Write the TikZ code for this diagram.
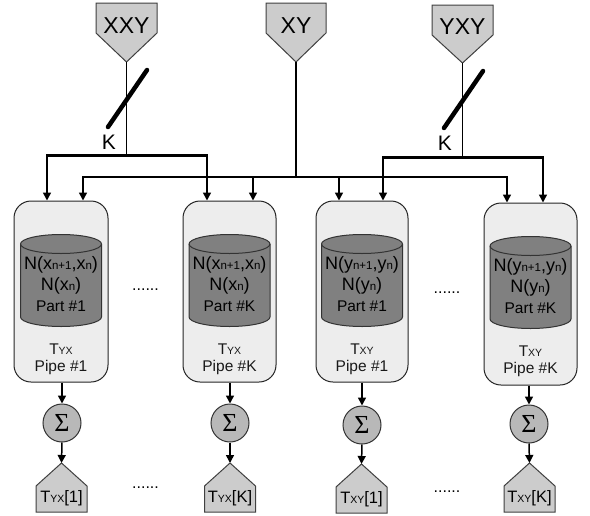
\documentclass[tikz,border=0pt]{standalone}
\usepackage{fontspec}
\setmainfont{Liberation Sans}
\newfontfamily\sigfont{Liberation Serif}
\usetikzlibrary{arrows.meta}
\newcommand{\fsz}[1]{\fontsize{#1}{#1}\selectfont}
\newcommand{\smsub}[1]{{\fsz{10.5}#1}}
\newcommand{\cylsub}[1]{{\fsz{11.5}#1}}
\newcommand{\drawcyl}[2]{% center x, vertical offset
  \draw[cylbody] ({#1-40.5},{244+#2}) -- ({#1-40.5},{317+#2})
     arc[start angle=180,end angle=360,x radius=40.5pt,y radius=9.5pt]
     -- ({#1+40.5},{244+#2})
     arc[start angle=0,end angle=180,x radius=40.5pt,y radius=9.5pt] -- cycle;
  \draw[cylline] ({#1-40.5},{244+#2}) arc[start angle=180,end angle=360,x radius=40.5pt,y radius=9.5pt];
}
\begin{document}
\begin{tikzpicture}[x=1pt,y=-1pt,
  wire/.style={line width=1.6pt,draw=black},
  bus/.style={line width=3pt,draw=black},
  drop/.style={line width=1.6pt,draw=black,-{Triangle[width=8pt,length=8pt]}},
  arr/.style={line width=1.5pt,draw=black,-{Triangle[width=8pt,length=8pt]}},
  src/.style={draw=black!75,fill=black!20,line width=1pt,line join=miter},
  srctext/.style={font=\fsz{23},inner sep=0pt,anchor=base},
  pipebox/.style={draw=black!85,fill=black!7,line width=1pt,rounded corners=17pt,inner sep=0pt},
  cylbody/.style={draw=black!80,fill=black!50,line width=1pt},
  cylline/.style={draw=black!80,line width=1pt},
  cyltext/.style={font=\fsz{18},inner sep=0pt,anchor=base},
  parttext/.style={font=\fsz{15.5},inner sep=0pt,anchor=base},
  pipetext/.style={font=\fsz{15.5},inner sep=0pt,anchor=base,text=black!90},
  sigma/.style={circle,draw=black!80,fill=black!28,line width=1pt,minimum size=38pt,inner sep=0pt,font=\sigfont\fsz{26}},
  outtext/.style={font=\fsz{16.5},inner sep=0pt,anchor=base},
  dots/.style={font=\fsz{16},inner sep=0pt,anchor=base},
  slash/.style={line width=4.5pt,line cap=round,draw=black},
  ktext/.style={font=\fsz{21},inner sep=0pt}
]
\fill[white] (0,0) rectangle (590,515);
\useasboundingbox (0,0) rectangle (590,515);

% ---------- pipe boxes ----------
\node[pipebox,minimum width=94pt,minimum height=181pt] (p1) at (61,291.5) {};
\node[pipebox,minimum width=93pt,minimum height=181pt] (p2) at (229.5,291.5) {};
\node[pipebox,minimum width=92pt,minimum height=181pt] (p3) at (362,291.5) {};
\node[pipebox,minimum width=93pt,minimum height=182pt] (p4) at (530.5,294) {};

% ---------- cylinders ----------
\drawcyl{61}{0}
\drawcyl{229.5}{0}
\drawcyl{362}{0}
\drawcyl{530.5}{2}

\node[cyltext] (c1a) at (61,269) {N(x\cylsub{n+1},x\cylsub{n})};
\node[cyltext] (c1b) at (61,290) {N(x\cylsub{n})};
\node[parttext] (c1c) at (61,311) {Part \#1};
\node[cyltext] (c2a) at (229.5,269) {N(x\cylsub{n+1},x\cylsub{n})};
\node[cyltext] (c2b) at (229.5,290) {N(x\cylsub{n})};
\node[parttext] (c2c) at (229.5,311) {Part \#K};
\node[cyltext] (c3a) at (362,269) {N(y\cylsub{n+1},y\cylsub{n})};
\node[cyltext] (c3b) at (362,290) {N(y\cylsub{n})};
\node[parttext] (c3c) at (362,311) {Part \#1};
\node[cyltext] (c4a) at (530.5,271) {N(y\cylsub{n+1},y\cylsub{n})};
\node[cyltext] (c4b) at (530.5,292) {N(y\cylsub{n})};
\node[parttext] (c4c) at (530.5,313) {Part \#K};

\node[pipetext] (t1) at (61,354) {T\smsub{YX}};
\node[pipetext] (n1) at (61,371) {Pipe \#1};
\node[pipetext] (t2) at (229.5,354) {T\smsub{YX}};
\node[pipetext] (n2) at (229.5,371) {Pipe \#K};
\node[pipetext] (t3) at (362,354) {T\smsub{XY}};
\node[pipetext] (n3) at (362,371) {Pipe \#1};
\node[pipetext] (t4) at (530.5,356) {T\smsub{XY}};
\node[pipetext] (n4) at (530.5,373) {Pipe \#K};

\node[dots] (d1) at (145.5,290) {......};
\node[dots] (d2) at (447,293) {......};

% ---------- sources ----------
\draw[src] (96,3) -- (157,3) -- (157,33) -- (126.5,62) -- (96,33) -- cycle;
\coordinate (xxytip) at (126.5,62);
\node[srctext] (xxy) at (126.5,33) {XXY};
\draw[src] (266,3) -- (326,3) -- (326,33) -- (296,62) -- (266,33) -- cycle;
\coordinate (xytip) at (296,62);
\node[srctext] (xy) at (296,33) {XY};
\draw[src] (432,5) -- (493,5) -- (493,35) -- (462.5,63) -- (432,35) -- cycle;
\coordinate (yxytip) at (462.5,63);
\node[srctext] (yxy) at (462.5,34) {YXY};

% ---------- XXY distribution ----------
\coordinate (xxyj) at (126.5,155);
\coordinate (xxyL) at (47,155);
\coordinate (xxyR) at (207,155);
\draw[wire] (xxytip) -- (xxyj);
\draw[bus] ([xshift=-0.8pt]xxyL) -- ([xshift=0.8pt]xxyR);
\draw[drop] (xxyL) -- (xxyL |- p1.north);
\draw[drop] (xxyR) -- (xxyR |- p2.north);
\draw[slash] (108,127) -- (147,70);
\node[ktext] (k1) at (109,142) {K};

% ---------- XY distribution ----------
\coordinate (xyj) at (296,177);
\coordinate (xyL) at (83,177);
\coordinate (xyA) at (253,177);
\coordinate (xyB) at (339,177);
\coordinate (xyR) at (507,177);
\draw[wire] (xytip) -- (xyj);
\draw[wire] ([xshift=-0.8pt]xyL) -- ([xshift=0.8pt]xyR);
\draw[drop] (xyL) -- (xyL |- p1.north);
\draw[drop] (xyA) -- (xyA |- p2.north);
\draw[drop] (xyB) -- (xyB |- p3.north);
\draw[drop] (xyR) -- (xyR |- p4.north);

% ---------- YXY distribution ----------
\coordinate (yxyj) at (462.5,157);
\coordinate (yxyL) at (383,157);
\coordinate (yxyR) at (543,157);
\draw[wire] (yxytip) -- (yxyj);
\draw[bus] ([xshift=-0.8pt]yxyL) -- ([xshift=0.8pt]yxyR);
\draw[drop] (yxyL) -- (yxyL |- p3.north);
\draw[drop] (yxyR) -- (yxyR |- p4.north);
\draw[slash] (444,128) -- (483,71);
\node[ktext] (k2) at (445,143) {K};

% ---------- sums ----------
\node[sigma] (s1) at (62,423) {Σ};
\node[sigma] (s2) at (230,423) {Σ};
\node[sigma] (s3) at (362,425) {Σ};
\node[sigma] (s4) at (529,424) {Σ};
\draw[arr] (s1.north |- p1.south) -- (s1.north);
\draw[arr] (s2.north |- p2.south) -- (s2.north);
\draw[arr] (s3.north |- p3.south) -- (s3.north);
\draw[arr] (s4.north |- p4.south) -- (s4.north);

% ---------- outputs ----------
\draw[src] (36,512) -- (36,486) -- (61.5,463) -- (87,486) -- (87,512) -- cycle;
\coordinate (o1tip) at (61.5,463);
\node[outtext] (o1) at (61.5,502) {T\smsub{YX}[1]};
\draw[src] (204.5,512) -- (204.5,486) -- (230,463) -- (255.5,486) -- (255.5,512) -- cycle;
\coordinate (o2tip) at (230,463);
\node[outtext] (o2) at (230,502) {T\smsub{YX}[K]};
\draw[src] (336,513) -- (336,487) -- (361.5,464) -- (387,487) -- (387,513) -- cycle;
\coordinate (o3tip) at (361.5,464);
\node[outtext] (o3) at (361.5,503) {T\smsub{XY}[1]};
\draw[src] (504,512) -- (504,486) -- (529.5,463) -- (555,486) -- (555,512) -- cycle;
\coordinate (o4tip) at (529.5,463);
\node[outtext] (o4) at (529.5,502) {T\smsub{XY}[K]};
\draw[arr] (s1.south) -- (o1tip);
\draw[arr] (s2.south) -- (o2tip);
\draw[arr] (s3.south) -- (o3tip);
\draw[arr] (s4.south) -- (o4tip);

\node[dots] (d3) at (145.5,488) {......};
\node[dots] (d4) at (447,492) {......};
\end{tikzpicture}
\end{document}
